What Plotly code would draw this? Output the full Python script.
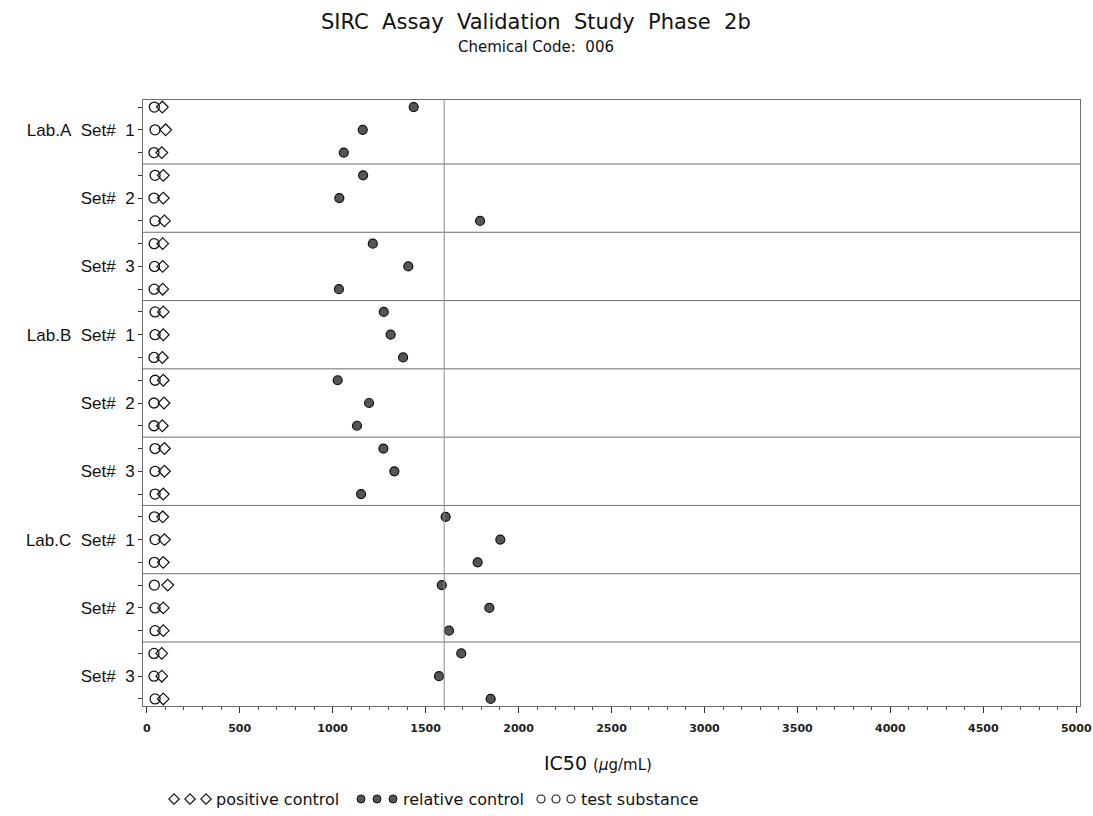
import plotly.graph_objects as go

# ---- data -------------------------------------------------------------
labs = ["Lab.A", "Lab.B", "Lab.C"]
sets = ["Set# 1", "Set# 2", "Set# 3"]
reps_per_set = 3

# IC50 (ug/mL), one value per replicate row, top to bottom
relative_control = [
    1436, 1162, 1060,   1164, 1036, 1793,   1216, 1407, 1034,   # Lab.A
    1275, 1312, 1379,   1027, 1196, 1131,   1273, 1332, 1153,   # Lab.B
    1608, 1902, 1780,   1587, 1843, 1626,   1692, 1572, 1850,   # Lab.C
]
test_substance = [
    41, 45, 39,   45, 39, 45,   40, 42, 40,
    45, 45, 39,   45, 39, 39,   45, 45, 45,
    41, 45, 41,   41, 45, 45,   39, 39, 45,
]
positive_control = [
    84, 102, 81,   89, 89, 95,   86, 86, 86,
    89, 89, 84,   89, 93, 84,   95, 95, 89,
    86, 95, 89,   113, 89, 89,   81, 81, 89,
]
reference_line = 1600

x_ticks = [0, 500, 1000, 1500, 2000, 2500, 3000, 3500, 4000, 4500, 5000]

# ---- layout geometry (pixels) -----------------------------------------
W, H = 1093, 816
PL, PR, PT, PB = 143, 1080, 100, 706

n_rows = len(relative_control)
rows = list(range(n_rows))

NB = "\u00a0"
tick_text = []
for li, lab in enumerate(labs):
    for si, s in enumerate(sets):
        for r in range(reps_per_set):
            if r == 1:
                prefix = lab + NB * 2 if si == 0 else ""
                tick_text.append(prefix + s.replace(" ", NB * 2))
            else:
                tick_text.append("")

font_main = "Liberation Sans, Arial, sans-serif"
font_wide = "DejaVu Sans, sans-serif"
ink = "#111111"

fig = go.Figure()

fig.add_trace(go.Scatter(
    x=relative_control, y=rows, mode="markers", name="relative control",
    marker=dict(symbol="circle", size=9, color="#555555",
                line=dict(color=ink, width=1.2)),
    showlegend=False))
fig.add_trace(go.Scatter(
    x=test_substance, y=rows, mode="markers", name="test substance",
    marker=dict(symbol="circle-open", size=10, color=ink,
                line=dict(width=1.3)),
    showlegend=False))
fig.add_trace(go.Scatter(
    x=positive_control, y=rows, mode="markers", name="positive control",
    marker=dict(symbol="diamond-open", size=9, color=ink,
                line=dict(width=1.2)),
    showlegend=False))

# separators between sets and the reference line
shapes = []
for k in range(1, len(labs) * len(sets)):
    yb = k * reps_per_set - 0.5
    shapes.append(dict(type="line", xref="x domain", x0=0, x1=1,
                       yref="y", y0=yb, y1=yb,
                       line=dict(color="#6e6e6e", width=1)))
shapes.append(dict(type="line", xref="x", x0=reference_line, x1=reference_line,
                   yref="y domain", y0=0, y1=1,
                   line=dict(color="#8a8a8a", width=1)))

# ---- legend drawn on an overlay pixel axis -----------------------------
leg_y = 799
leg_items = [
    ("diamond-open", ink, None, [174, 190, 206], 214, "positive control"),
    ("circle", "#555555", ink, [361, 377, 393], 401, "relative control"),
    ("circle-open", ink, None, [541, 556, 571], 579, "test substance"),
]
annotations = []
for sym, col, lc, xs, tx, label in leg_items:
    mk = dict(symbol=sym, size=8, color=col)
    mk["line"] = dict(color=lc, width=1) if lc else dict(width=1.1)
    fig.add_trace(go.Scatter(x=xs, y=[leg_y] * len(xs), mode="markers",
                             marker=mk, xaxis="x2", yaxis="y2",
                             showlegend=False, hoverinfo="skip"))
    annotations.append(dict(x=tx / W, y=1 - leg_y / H, xref="paper", yref="paper",
                            text=label, showarrow=False, xanchor="left",
                            yanchor="middle",
                            font=dict(family=font_wide, size=16, color=ink)))

annotations += [
    dict(x=536 / W, y=1 - 22 / H, xref="paper", yref="paper",
         text=(NB * 2).join("SIRC Assay Validation Study Phase 2b".split(" ")),
         showarrow=False, xanchor="center", yanchor="middle",
         font=dict(family=font_wide, size=21, color=ink)),
    dict(x=536 / W, y=1 - 47 / H, xref="paper", yref="paper",
         text="Chemical" + NB + "Code:" + NB * 2 + "006", showarrow=False,
         xanchor="center", yanchor="middle",
         font=dict(family=font_wide, size=15, color=ink)),
    dict(x=598 / W, y=1 - 763 / H, xref="paper", yref="paper",
         text="IC50" + NB + "<span style='font-size:15px'>(<i>μ</i>g/mL)</span>",
         showarrow=False, xanchor="center", yanchor="middle",
         font=dict(family=font_wide, size=19, color=ink)),
]

fig.update_layout(
    width=W, height=H,
    margin=dict(l=0, r=0, t=0, b=0, autoexpand=False),
    paper_bgcolor="white", plot_bgcolor="rgba(0,0,0,0)",
    showlegend=False,
    shapes=shapes,
    annotations=annotations,
    xaxis=dict(
        domain=[PL / W, PR / W], range=[-20, 5020], automargin=False,
        tickvals=x_ticks, ticktext=[str(v) for v in x_ticks],
        ticks="outside", ticklen=6, tickcolor="#333333", tickwidth=1,
        minor=dict(dtick=100, tick0=0, ticks="outside", ticklen=3,
                   tickcolor="#555555", showgrid=False),
        showgrid=False, zeroline=False,
        showline=True, linecolor="#6e6e6e", linewidth=1, mirror=True,
        ticklabelstandoff=6,
        tickfont=dict(family=font_wide, size=11, color="#222222",
                      weight="bold"),
    ),
    yaxis=dict(
        domain=[1 - PB / H, 1 - PT / H], automargin=False,
        range=[n_rows - 1 + 0.31, -0.31],
        tickvals=rows, ticktext=tick_text,
        ticks="outside", ticklen=4, tickcolor="#333333",
        showgrid=False, zeroline=False,
        showline=True, linecolor="#6e6e6e", linewidth=1, mirror=True,
        tickfont=dict(family=font_main, size=17, color=ink),
    ),
    xaxis2=dict(domain=[0, 1], range=[0, W], visible=False,
                anchor="y2", fixedrange=True, automargin=False),
    yaxis2=dict(domain=[0, 1], range=[H, 0], visible=False, anchor="x2",
                fixedrange=True, automargin=False),
)

fig.write_html("out.html")
